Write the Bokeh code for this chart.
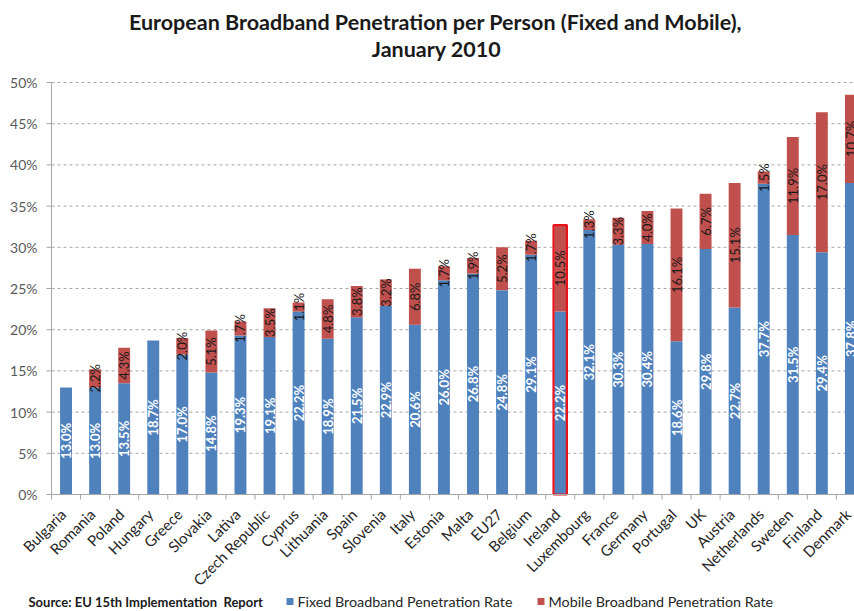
from math import pi
from bokeh.plotting import figure
from bokeh.models import ColumnDataSource, Range1d
from bokeh.core.properties import value
from bokeh.embed import file_html
from bokeh.resources import INLINE

countries = ["Bulgaria", "Romania", "Poland", "Hungary", "Greece", "Slovakia",
             "Lativa", "Czech Republic", "Cyprus", "Lithuania", "Spain",
             "Slovenia", "Italy", "Estonia", "Malta", "EU27", "Belgium",
             "Ireland", "Luxembourg", "France", "Germany", "Portugal", "UK",
             "Austria", "Netherlands", "Sweden", "Finland", "Denmark"]
fixed = [13.0, 13.0, 13.5, 18.7, 17.0, 14.8, 19.3, 19.1, 22.2, 18.9, 21.5,
         22.9, 20.6, 26.0, 26.8, 24.8, 29.1, 22.2, 32.1, 30.3, 30.4, 18.6,
         29.8, 22.7, 37.7, 31.5, 29.4, 37.8]
mobile = [0.0, 2.2, 4.3, 0.0, 2.0, 5.1, 1.7, 3.5, 1.1, 4.8, 3.8, 3.2, 6.8,
          1.7, 1.9, 5.2, 1.7, 10.5, 1.3, 3.3, 4.0, 16.1, 6.7, 15.1, 1.5,
          11.9, 17.0, 10.7]
highlight = "Ireland"
y_ticks = [0, 5, 10, 15, 20, 25, 30, 35, 40, 45, 50]
y_tick_labels = ["0%", "5%", "10%", "15%", "20%", "25%", "30%", "35%",
                 "40%", "45%", "50%"]
series_names = ["Fixed Broadband Penetration Rate",
                "Mobile Broadband Penetration Rate"]
title_lines = ["European Broadband Penetration per Person (Fixed and Mobile),",
               "January 2010"]
source_note = "Source: EU 15th Implementation\u00a0 Report"

BLUE = "#4F81BD"
RED = "#C0504D"
GREY = "#A6A6A6"
FONT = value("Lato")
W, H = 854, 611

# pixel geometry of the plotting area
X0, PX = 51.0, 29.07      # canvas x of category edge 0, px per category
Y0, PY = 494.0, 8.24      # canvas y of 0 %, px per percentage point


def dx(px):
    return (px - X0) / PX


def dy(py):
    return (Y0 - py) / PY


n = len(countries)
xs = [i + 0.5 for i in range(n)]
total = [f + m for f, m in zip(fixed, mobile)]
src = ColumnDataSource(dict(
    x=xs, name=countries, fixed=fixed, mobile=mobile, total=total,
    fmid=[f / 2 for f in fixed], mmid=[f + m / 2 for f, m in zip(fixed, mobile)],
    flab=["%.1f%%" % f for f in fixed],
    mlab=["%.1f%%" % m if m > 0 else "" for m in mobile],
))

p = figure(width=W, height=H, output_backend="svg", toolbar_location=None,
           x_range=Range1d(dx(0), dx(W)), y_range=Range1d(dy(H), dy(0)),
           x_axis_location=None, y_axis_location=None,
           min_border=0, outline_line_color=None)
p.grid.visible = False
p.background_fill_color = "white"
p.border_fill_color = "white"

x_end = dx(W)
# gridlines (dashed) and y ticks
gy = y_ticks[1:]
p.segment(x0=[0] * len(gy), y0=gy, x1=[x_end] * len(gy), y1=gy,
          line_color=GREY, line_dash="3 3", line_width=1)
p.segment(x0=[dx(X0 - 5)] * len(y_ticks), y0=y_ticks, x1=[0] * len(y_ticks),
          y1=y_ticks, line_color=GREY, line_width=1)
p.text(x=[dx(37)] * len(y_ticks), y=y_ticks, text=y_tick_labels,
       text_align="right", text_baseline="middle", text_font=FONT,
       text_font_size="14px", text_color="#595959")

# bars
p.vbar(x="x", bottom=0, top="fixed", width=0.41, source=src,
       fill_color=BLUE, line_color=None)
p.vbar(x="x", bottom="fixed", top="total", width=0.41, source=src,
       fill_color=RED, line_color=None)

hi = countries.index(highlight)
p.vbar(x=[xs[hi]], bottom=[0], top=[total[hi]], width=0.46,
       fill_color=None, line_color="#E8141B", line_width=2.2)

# axis lines and category ticks
p.segment(x0=[0], y0=[y_ticks[0]], x1=[0], y1=[y_ticks[-1]],
          line_color=GREY, line_width=1)
p.segment(x0=[0], y0=[0], x1=[x_end], y1=[0], line_color=GREY, line_width=1)
edges = list(range(n + 1))
p.segment(x0=edges, y0=[0] * len(edges), x1=edges, y1=[dy(Y0 + 5)] * len(edges),
          line_color=GREY, line_width=1)

# value labels
p.text(x="x", y="fmid", text="flab", source=src, angle=pi / 2,
       text_align="center", text_baseline="middle", text_color="white",
       text_font=FONT, text_font_size="13px", text_font_style="bold")
p.text(x="x", y="mmid", text="mlab", source=src, angle=pi / 2,
       text_align="center", text_baseline="middle", text_color="#1a1a1a",
       text_font=FONT, text_font_size="13px")

# category labels
p.text(x=[x - 0.1 for x in xs], y=[dy(Y0 + 17)] * n, text=countries,
       angle=pi / 4, text_align="right", text_baseline="middle",
       text_font=FONT, text_font_size="15px", text_color="#262626")

# title
p.text(x=[dx(435), dx(436)], y=[dy(21), dy(48)], text=title_lines,
       text_align="center", text_baseline="middle", text_font=FONT,
       text_font_size="21.5px", text_font_style="bold", text_color="#1a1a1a")

# footer: source note and legend
FY = 601
p.text(x=[dx(28)], y=[dy(FY)], text=[source_note], text_align="left",
       text_baseline="middle", text_font=FONT, text_font_size="13px",
       text_font_style="bold", text_color="#1a1a1a")
p.scatter(x=[dx(289.5), dx(540.5)], y=[dy(FY), dy(FY)], marker="square",
          size=7, fill_color=[BLUE, RED], line_color=None)
p.text(x=[dx(297), dx(548)], y=[dy(FY), dy(FY)], text=series_names,
       text_align="left", text_baseline="middle", text_font=FONT,
       text_font_size="14.3px", text_color="#262626")

open("out.html", "w").write(file_html(p, INLINE))
